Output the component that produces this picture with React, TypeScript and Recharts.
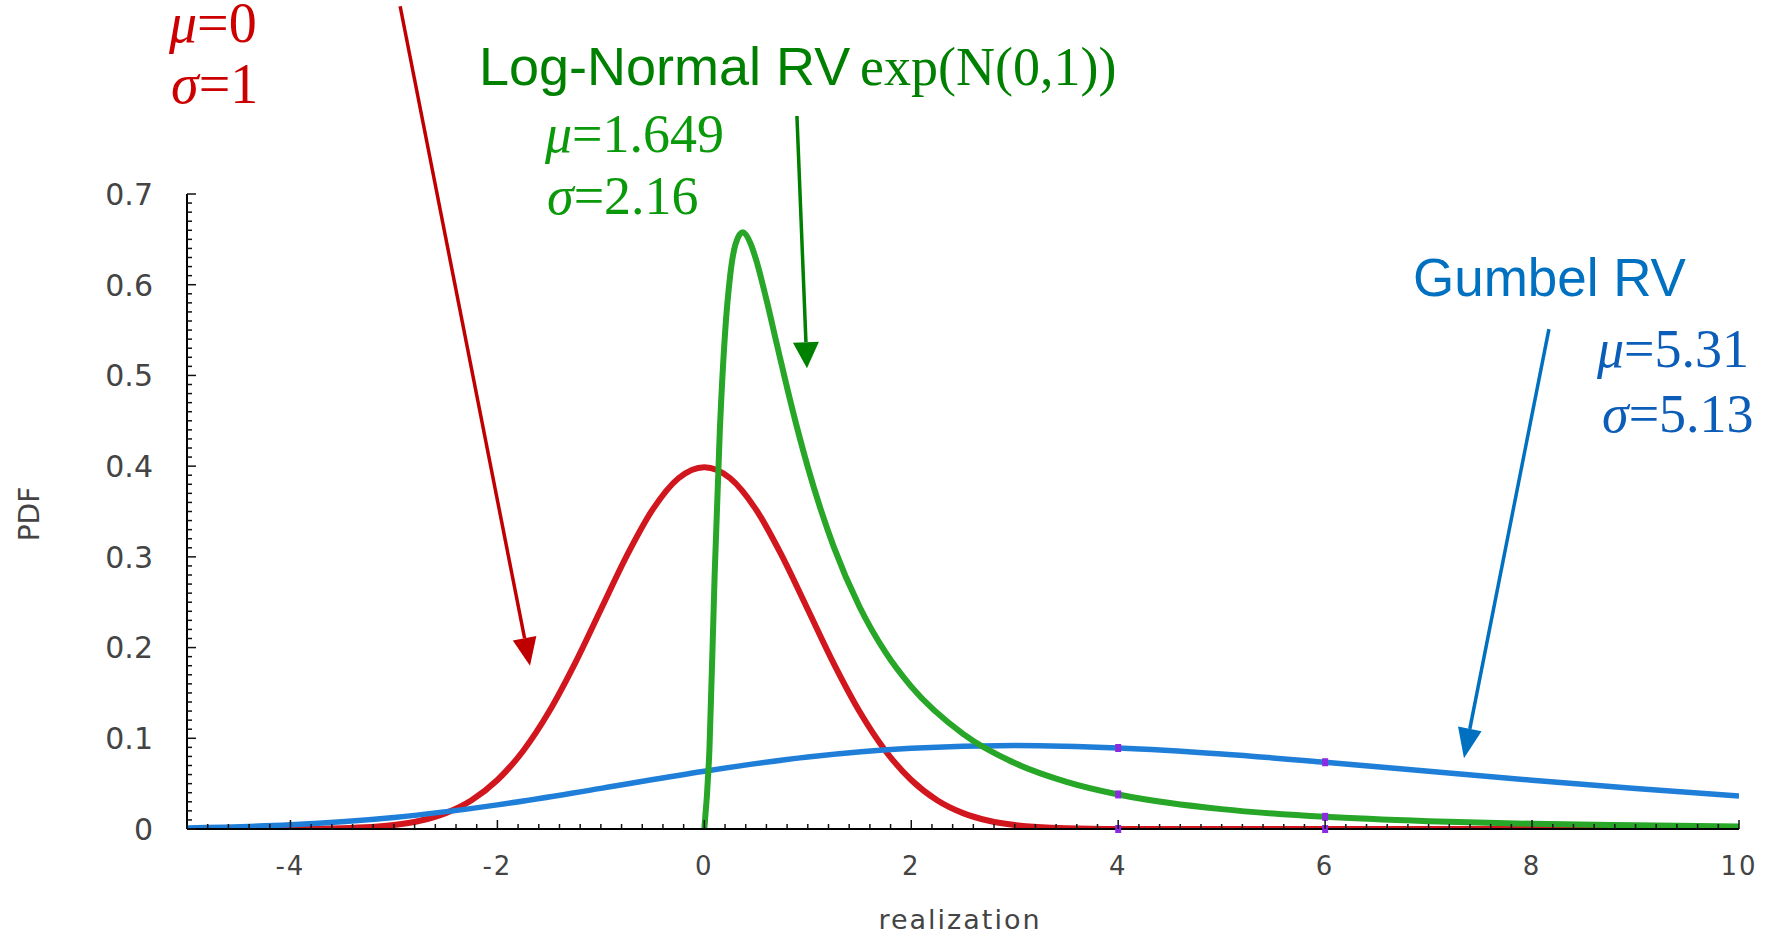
import React from "react";
import {
  LineChart,
  Line,
  XAxis,
  YAxis,
  ReferenceLine,
  ReferenceDot,
} from "recharts";

// standard normal N(0,1)
const normalX = [-5, -4.5, -4, -3.5, -3, -2.75, -2.5, -2.25, -2, -1.75, -1.5, -1.25, -1, -0.75, -0.5, -0.25, 0, 0.25, 0.5, 0.75, 1, 1.25, 1.5, 1.75, 2, 2.25, 2.5, 2.75, 3, 3.5, 4, 4.5, 5, 6, 7, 8, 9, 10];
const normalPdf = [0, 0, 0.0001, 0.0009, 0.0044, 0.0091, 0.0175, 0.0317, 0.054, 0.0863, 0.1295, 0.1826, 0.242, 0.3011, 0.3521, 0.3867, 0.3989, 0.3867, 0.3521, 0.3011, 0.242, 0.1826, 0.1295, 0.0863, 0.054, 0.0317, 0.0175, 0.0091, 0.0044, 0.0009, 0.0001, 0, 0, 0, 0, 0, 0, 0];

// log-normal exp(N(0,1)), green curve
const lognormX = [0, 0.05, 0.1, 0.15, 0.2, 0.25, 0.3, 0.37, 0.45, 0.5, 0.6, 0.7, 0.8, 0.9, 1, 1.25, 1.5, 1.75, 2, 2.5, 3, 3.5, 4, 4.5, 5, 6, 7, 8, 9, 10];
const lognormPdf = [0, 0.0898, 0.2816, 0.4399, 0.5463, 0.6104, 0.6442, 0.6577, 0.6445, 0.6276, 0.5836, 0.5348, 0.4864, 0.4408, 0.3989, 0.3113, 0.245, 0.1949, 0.1569, 0.1049, 0.0727, 0.052, 0.0381, 0.0286, 0.0219, 0.0134, 0.0086, 0.0057, 0.004, 0.0028];

// Gumbel, blue curve
const gumbelX = [-5, -4, -3, -2, -1, 0, 1, 2, 3, 4, 5, 6, 7, 8, 9, 10];
const gumbelPdf = [0.0011, 0.0046, 0.0127, 0.0266, 0.0448, 0.0637, 0.0793, 0.0889, 0.092, 0.0893, 0.0827, 0.0736, 0.0637, 0.0538, 0.0446, 0.0365];

// small purple marks at x = 4 and x = 6
const markX = [4, 4, 4, 6, 6, 6];
const markY = [0.0893, 0.0381, 0, 0.0736, 0.0134, 0];

// annotation arrows, in data units: [x1, y1, x2, y2]
const redArrow = [-2.94, 0.907, -1.685, 0.18];
const greenArrow = [0.895, 0.786, 0.992, 0.508];
const blueArrow = [8.163, 0.551, 7.342, 0.078];

const X_DOMAIN = [-5, 10];
const Y_DOMAIN = [0, 0.7];

const xTicks = Array.from({ length: 76 }, (_, i) => Math.round((-5 + i * 0.2) * 10) / 10);
const yTicks = Array.from({ length: 71 }, (_, i) => i / 100);

const RED = "#d1161d";
const GREEN = "#27a627";
const BLUE = "#1f7fd8";

const normalData = normalX.map((x, i) => ({ x, y: normalPdf[i] }));
const lognormData = lognormX.map((x, i) => ({ x, y: lognormPdf[i] }));
const gumbelData = gumbelX.map((x, i) => ({ x, y: gumbelPdf[i] }));

const axisFont = "'DejaVu Sans', sans-serif";
const serif = "'Liberation Serif', 'Times New Roman', serif";
const sans = "'Liberation Sans', Arial, sans-serif";

const XTick = (props: any) => {
  const { x, y, payload } = props;
  const v = payload.value;
  const major = Number.isInteger(v) && v % 2 === 0;
  return (
    <g>
      <line x1={x} x2={x} y1={y} y2={y - (major ? 9 : 5)} stroke="#111" strokeWidth={1.5} />
      {major && (
        <text x={x} y={y + 46} textAnchor="middle" fontFamily={axisFont} fontSize={26} letterSpacing={2} fill="#444">
          {String(v)}
        </text>
      )}
    </g>
  );
};

const YTick = (props: any) => {
  const { x, y, payload } = props;
  const n = Math.round(payload.value * 100);
  const major = n % 10 === 0;
  return (
    <g>
      <line x1={x} x2={x + (major ? 9 : 5)} y1={y} y2={y} stroke="#111" strokeWidth={1.5} />
      {major && (
        <text x={x - 34} y={y} dy="0.36em" textAnchor="end" fontFamily={axisFont} fontSize={30} fill="#444">
          {n === 0 ? "0" : (n / 100).toFixed(1)}
        </text>
      )}
    </g>
  );
};

const arrowShape = (color: string, w: number, headLen: number, headW: number) => (p: any) => {
  const { x1, y1, x2, y2 } = p;
  const dx = x2 - x1;
  const dy = y2 - y1;
  const len = Math.hypot(dx, dy) || 1;
  const ux = dx / len;
  const uy = dy / len;
  const bx = x2 - ux * headLen;
  const by = y2 - uy * headLen;
  const nx = -uy * headW / 2;
  const ny = ux * headW / 2;
  return (
    <g>
      <line x1={x1} y1={y1} x2={bx} y2={by} stroke={color} strokeWidth={w} />
      <polygon points={`${x2},${y2} ${bx + nx},${by + ny} ${bx - nx},${by - ny}`} fill={color} />
    </g>
  );
};

const markShape = (p: any) => (
  <rect x={p.cx - 3} y={p.cy - 4} width={6} height={8} fill="#8a2be2" />
);

const Eq = ({ x, y, sym, val, color, size = 54 }: any) => (
  <text x={x} y={y} fontFamily={serif} fontSize={size} fill={color}>
    <tspan fontStyle="italic">{sym}</tspan>
    <tspan>={val}</tspan>
  </text>
);

export default function App() {
  return (
    <div style={{ position: "absolute", left: 0, top: 0, width: 1769, height: 934, background: "#fff" }}>
      <LineChart width={1769} height={934} margin={{ top: 194, right: 30, left: 87, bottom: 45 }}>
        <XAxis
          type="number"
          dataKey="x"
          domain={X_DOMAIN}
          ticks={xTicks}
          interval={0}
          allowDataOverflow
          height={60}
          tickSize={0}
          tickMargin={0}
          tickLine={false}
          axisLine={{ stroke: "#000", strokeWidth: 2 }}
          tick={(p: any) => <XTick {...p} />}
        />
        <YAxis
          type="number"
          domain={Y_DOMAIN}
          ticks={yTicks}
          interval={0}
          allowDataOverflow
          width={100}
          tickSize={0}
          tickMargin={0}
          tickLine={false}
          axisLine={{ stroke: "#000", strokeWidth: 2 }}
          tick={(p: any) => <YTick {...p} />}
        />
        <Line data={normalData} dataKey="y" type="monotone" stroke={RED} strokeWidth={6} dot={false} activeDot={false} isAnimationActive={false} />
        <Line data={gumbelData} dataKey="y" type="monotone" stroke={BLUE} strokeWidth={5.5} dot={false} activeDot={false} isAnimationActive={false} />
        <Line data={lognormData} dataKey="y" type="monotone" stroke={GREEN} strokeWidth={6} dot={false} activeDot={false} isAnimationActive={false} />
        {markX.map((x, i) => (
          <ReferenceDot key={`m-${i}`} x={x} y={markY[i]} r={4} ifOverflow="visible" shape={markShape} />
        ))}
        <ReferenceLine
          segment={[{ x: redArrow[0], y: redArrow[1] }, { x: redArrow[2], y: redArrow[3] }]}
          ifOverflow="visible"
          shape={arrowShape("#c00000", 3.5, 28, 24)}
        />
        <ReferenceLine
          segment={[{ x: greenArrow[0], y: greenArrow[1] }, { x: greenArrow[2], y: greenArrow[3] }]}
          ifOverflow="visible"
          shape={arrowShape("#008000", 3.5, 26, 26)}
        />
        <ReferenceLine
          segment={[{ x: blueArrow[0], y: blueArrow[1] }, { x: blueArrow[2], y: blueArrow[3] }]}
          ifOverflow="visible"
          shape={arrowShape("#0070c0", 3.5, 30, 24)}
        />
      </LineChart>
      <svg width={1769} height={934} style={{ position: "absolute", left: 0, top: 0, pointerEvents: "none" }}>
        <text x={29} y={514} transform="rotate(-90 29 514)" textAnchor="middle" dy="0.36em" fontFamily={axisFont} fontSize={28} fill="#444">
          PDF
        </text>
        <text x={960} y={929} textAnchor="middle" fontFamily={axisFont} fontSize={27} letterSpacing={2} fill="#444">
          realization
        </text>

        <Eq x={169} y={42} sym="μ" val="0" color="#cc0000" size={56} />
        <Eq x={171} y={103} sym="σ" val="1" color="#cc0000" size={56} />

        <text x={479} y={85} fontFamily={sans} fontSize={54} fill="#008000">
          Log-Normal RV
        </text>
        <text x={860} y={85} fontFamily={serif} fontSize={54} fill="#008000">
          exp(N(0,1))
        </text>
        <Eq x={545} y={152} sym="μ" val="1.649" color="#0a990a" />
        <Eq x={547} y={214} sym="σ" val="2.16" color="#0a990a" />

        <text x={1413} y={296} fontFamily={sans} fontSize={53} fill="#0070c0">
          Gumbel RV
        </text>
        <Eq x={1597} y={367} sym="μ" val="5.31" color="#0c5db8" />
        <Eq x={1602} y={432} sym="σ" val="5.13" color="#0c5db8" />
      </svg>
    </div>
  );
}
